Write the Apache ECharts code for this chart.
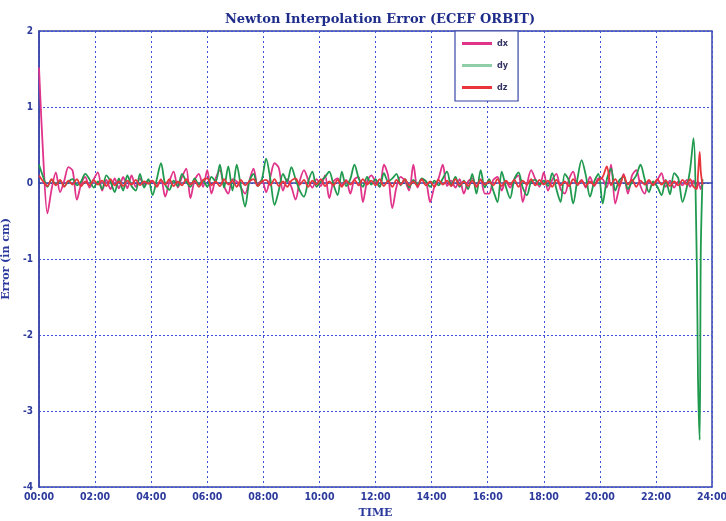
<!DOCTYPE html>
<html>
<head>
<meta charset="utf-8">
<title>Newton Interpolation Error (ECEF ORBIT)</title>
<script src="https://cdn.jsdelivr.net/npm/echarts@6/dist/echarts.min.js"></script>
<style>
  html, body { margin: 0; padding: 0; background: #ffffff; }
  #chart { width: 726px; height: 521px; }
</style>
</head>
<body>
<div id="chart"></div>
<script>
// Interpolation error of the ECEF orbit components, in cm, sampled every STEP hours,
// followed by a denser tail around the end-of-day edge effect.
const STEP = 0.15;

const dx = [
  1.52, 0.35, -0.40, -0.08, 0.14, -0.12, 0.03, 0.21, 0.16, -0.22, -0.02, 0.08, -0.06, 0.05, 0.14, -0.10, 0.04, -0.08, 0.06, -0.07, 0.08, -0.07, 0.10, -0.05, 0.06, -0.03, 0.03,
  0.02, -0.04, 0.05, -0.18, 0.02, 0.15, -0.06, 0.08, 0.19, -0.20, 0.04, 0.12, -0.05, 0.17, -0.14, 0.06, 0.17, -0.04, -0.14, 0.05, 0.02, -0.06, -0.14, 0.03, 0.19, -0.02, 0.04,
  -0.12, 0.08, 0.26, 0.20, -0.10, 0.05, -0.05, -0.22, 0.03, 0.17, 0.04, -0.06, 0.05, -0.04, 0.10, -0.20, 0.02, 0.06, -0.03, 0.04, -0.14, 0.05, 0.08, -0.25, 0.02, 0.10,
  0.02, -0.05, 0.24, 0.10, -0.33, -0.05, 0.08, 0.03, -0.10, 0.24, -0.06, 0.04, 0.02, -0.25, -0.05, 0.06, 0.24, -0.04, 0.03, -0.06, 0.05, -0.14, 0.02, 0.06, -0.04, 0.05, -0.14,
  -0.14, 0.04, 0.08, -0.10, 0.03, -0.06, 0.05, 0.10, -0.25, -0.02, 0.17, 0.05, -0.05, 0.14, -0.10, 0.04, 0.12, -0.08, -0.14, 0.05, 0.15, -0.03, 0.04, -0.06, 0.08, -0.04, 0.06,
  0.05, -0.06, 0.24, -0.27, -0.05, 0.12, -0.14, 0.10, 0.17, -0.04, -0.14, 0.03, -0.02, 0.04, 0.13, -0.05, 0.03, -0.06, 0.02, -0.03
];

const dy = [
  0.24, 0.08, -0.05, 0.04, -0.02, 0.03, -0.04, 0.02, 0.05, -0.03, 0.02, 0.12, 0.05, -0.06, 0.02, -0.08, 0.10, 0.02, -0.12, 0.06, -0.10, 0.10, -0.04, -0.10, 0.12, -0.06, 0.05,
  -0.16, 0.05, 0.26, -0.02, -0.09, 0.03, -0.04, 0.12, 0.02, -0.05, 0.06, -0.02, 0.03, -0.05, 0.08, 0.02, 0.24, -0.06, 0.22, -0.10, 0.24, -0.05, -0.31, 0.02, 0.12, -0.04, 0.05,
  0.32, 0.05, -0.29, -0.10, 0.12, 0.02, 0.21, 0.05, -0.10, -0.18, 0.02, 0.15, -0.05, 0.02, 0.08, 0.15, -0.02, -0.16, 0.15, -0.04, 0.05, 0.24, 0.06, -0.05, 0.08, -0.02,
  0.05, -0.05, 0.13, 0.02, 0.06, 0.12, -0.03, 0.05, -0.06, 0.04, -0.02, 0.06, 0.02, -0.05, 0.03, -0.03, 0.06, 0.15, -0.04, 0.08, -0.05, 0.03, -0.08, 0.12, -0.14, 0.17, -0.06,
  0.05, -0.10, -0.25, 0.15, -0.05, -0.20, 0.05, 0.14, -0.06, -0.16, 0.02, 0.04, -0.02, 0.03, -0.04, 0.13, -0.08, -0.25, 0.12, 0.03, -0.27, 0.05, 0.30, 0.10, -0.18, 0.02, 0.12,
  -0.27, 0.05, 0.19, -0.10, 0.04, 0.08, -0.08, 0.02, 0.10, 0.24, 0.05, -0.12, 0.02, -0.05, -0.16, 0.04, -0.15, 0.13, 0.06, -0.25
];

const dz = [
  0.10, 0.02, -0.04, 0.05, -0.03, 0.04, -0.05, 0.03, -0.02, 0.05, -0.04, 0.02, -0.03, 0.04, -0.02, 0.03, -0.04, 0.05, -0.03, 0.02, -0.04, 0.03, -0.02, 0.04, -0.03, 0.02, -0.01,
  0.03, -0.05, 0.04, -0.02, 0.05, -0.04, 0.02, -0.03, 0.05, -0.02, 0.03, -0.05, 0.04, 0.06, -0.03, 0.02, -0.04, 0.05, -0.02, 0.03, -0.05, 0.04, -0.03, 0.02, 0.05, -0.04, 0.02,
  0.04, -0.03, 0.05, -0.04, 0.02, -0.05, 0.03, 0.06, -0.02, 0.04, -0.05, 0.03, -0.02, 0.05, -0.04, 0.02, -0.03, 0.04, -0.05, 0.03, -0.02, 0.04, -0.03, 0.05, -0.02, 0.03,
  -0.03, 0.05, -0.04, 0.03, -0.05, 0.04, -0.02, 0.05, -0.03, 0.02, -0.04, 0.05, -0.03, 0.02, -0.05, 0.04, -0.02, 0.03, -0.04, 0.05, -0.03, 0.02, -0.04, 0.03, -0.05, 0.04, -0.02,
  0.02, -0.03, 0.05, -0.04, 0.03, -0.02, 0.04, -0.05, 0.03, -0.02, 0.05, -0.03, 0.04, -0.02, 0.03, -0.05, 0.04, -0.03, 0.02, -0.04, 0.05, -0.02, 0.03, -0.04, 0.02, -0.03, 0.04,
  0.08, 0.22, -0.03, 0.05, -0.04, 0.10, -0.02, 0.04, -0.05, 0.03, -0.02, 0.04, -0.03, 0.05, -0.02, 0.03, -0.04, 0.02, -0.03, 0.04
];

// Dense samples over the final hour, where the interpolation diverges
const tailHours = [23.10, 23.22, 23.34, 23.46, 23.50, 23.56, 23.60, 23.66];
const dxTail    = [0.04, -0.05, 0.03, -0.06, 0.02, -0.04, -0.08, 0.00];
const dyTail    = [-0.06, 0.18, 0.59, -1.10, -2.55, -3.38, -0.90, 0.05];
const dzTail    = [-0.02, 0.05, -0.05, -0.08, 0.10, 0.41, 0.15, -0.02];

// Axis ticks
const xTicks = [0, 2, 4, 6, 8, 10, 12, 14, 16, 18, 20, 22, 24];
const yTicks = [2, 1, 0, -1, -2, -3, -4];

function toPoints(values, tailValues) {
  const pts = values.map((v, i) => [i * STEP, v]);
  tailHours.forEach((h, i) => pts.push([h, tailValues[i]]));
  return pts;
}

const BLUE = '#3846a8';
const LABEL = '#2b3a9c';
const GRID = '#3c50d8';
const NARROW = '"Liberation Sans Narrow", "DejaVu Sans Condensed", Arial, sans-serif';

const chart = echarts.init(document.getElementById('chart'), null, { renderer: 'canvas' });

chart.setOption({
  backgroundColor: '#ffffff',
  animation: false,
  title: {
    text: 'Newton Interpolation Error (ECEF ORBIT)',
    left: 375,
    textAlign: 'center',
    top: 8,
    textStyle: {
      fontFamily: '"DejaVu Serif", serif',
      fontWeight: 'bold',
      fontSize: 13,
      color: '#1f2d8a'
    }
  },
  legend: {
    orient: 'vertical',
    left: 455,
    top: 31,
    width: 65,
    padding: [8, 10, 9, 7],
    itemGap: 13,
    itemWidth: 30,
    itemHeight: 3,
    icon: 'rect',
    backgroundColor: '#ffffff',
    borderColor: BLUE,
    borderWidth: 1.2,
    textStyle: { fontFamily: NARROW, fontWeight: 'bold', fontSize: 9, color: '#333366' },
    data: ['dx', 'dy', 'dz']
  },
  grid: {
    left: 39,
    right: 14,
    top: 31,
    bottom: 34,
    outerBoundsMode: 'none',
    containLabel: false,
    show: true,
    borderColor: BLUE,
    borderWidth: 1.5,
    backgroundColor: '#ffffff'
  },
  xAxis: {
    type: 'value',
    min: 0,
    max: 24,
    interval: 2,
    name: 'TIME',
    nameLocation: 'middle',
    nameGap: 20,
    nameTextStyle: { fontFamily: '"DejaVu Serif", serif', fontWeight: 'bold', fontSize: 11, color: LABEL },
    axisLine: { show: true, lineStyle: { color: BLUE, width: 1.5 } },
    axisTick: { show: false },
    axisLabel: {
      margin: 5,
      fontFamily: NARROW,
      fontWeight: 'bold',
      fontSize: 10.5,
      color: LABEL,
      formatter: v => (xTicks.includes(v) ? String(v).padStart(2, '0') + ':00' : '')
    },
    splitLine: { show: true, lineStyle: { color: GRID, type: [2, 3], width: 1 } }
  },
  yAxis: {
    type: 'value',
    min: -4,
    max: 2,
    interval: 1,
    name: 'Error (in cm)',
    nameLocation: 'middle',
    nameGap: 16,
    nameTextStyle: { fontFamily: '"DejaVu Serif", serif', fontWeight: 'bold', fontSize: 11, color: LABEL },
    axisLine: { show: true, lineStyle: { color: BLUE, width: 1.5 } },
    axisTick: { show: false },
    axisLabel: {
      margin: 6,
      fontFamily: NARROW,
      fontWeight: 'bold',
      fontSize: 10,
      color: LABEL,
      formatter: v => (yTicks.includes(v) ? String(v) : '')
    },
    splitLine: { show: true, lineStyle: { color: GRID, type: [2, 2], width: 1 } }
  },
  series: [
    {
      name: 'dx', type: 'line', showSymbol: false, symbol: 'none', smooth: 0.3,
      data: toPoints(dx, dxTail),
      lineStyle: { color: '#e0338a', width: 1.8 },
      itemStyle: { color: '#e0338a' }
    },
    {
      name: 'dy', type: 'line', showSymbol: false, symbol: 'none', smooth: 0.3,
      data: toPoints(dy, dyTail),
      lineStyle: { color: '#1f9a4e', width: 1.8 },
      itemStyle: { color: '#8fcfa8' }
    },
    {
      name: 'dz', type: 'line', showSymbol: false, symbol: 'none', smooth: 0.3,
      data: toPoints(dz, dzTail),
      lineStyle: { color: '#e8343a', width: 1.8 },
      itemStyle: { color: '#e8343a' }
    }
  ]
});
</script>
</body>
</html>
